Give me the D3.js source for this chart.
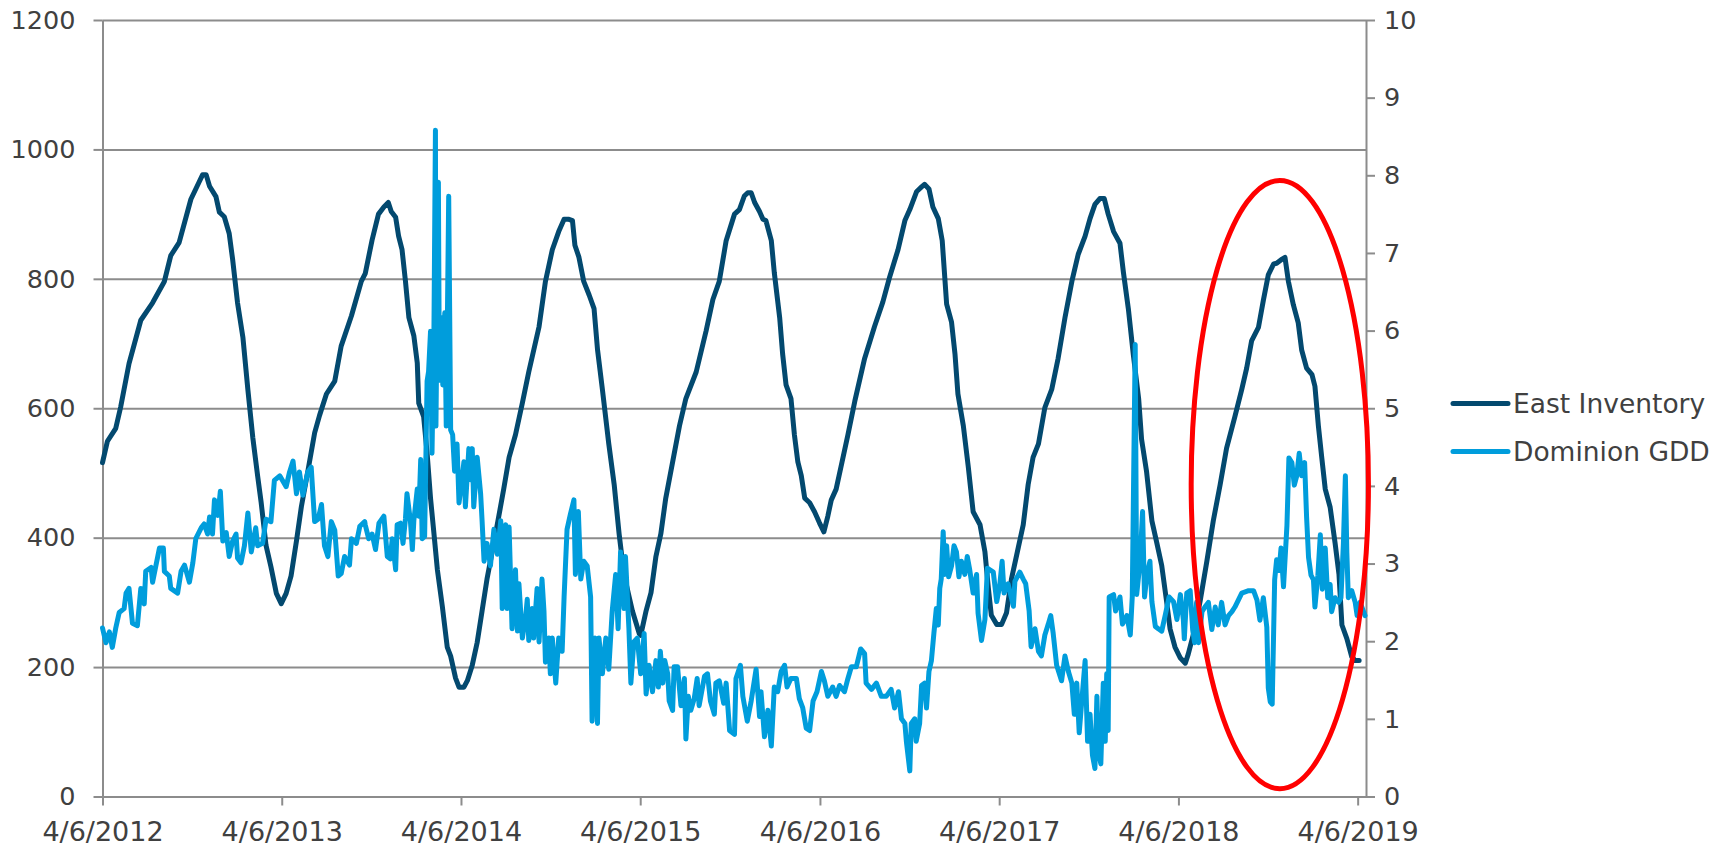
<!DOCTYPE html>
<html>
<head>
<meta charset="utf-8">
<script src="https://cdn.jsdelivr.net/npm/d3@7"></script>
<style>
  body { margin: 0; background: #fff; }
  svg text { font-family: "DejaVu Sans", Verdana, sans-serif; fill: #404040; }
</style>
</head>
<body>
<div id="chart"></div>
<script>
// East storage (Bcf, left axis) and Dominion gas daily price ($, right axis)

const width = 1724;
const height = 846;
const plot = { left: 102.5, right: 1366, top: 20, bottom: 796.5 };

const leftTicks = [0, 200, 400, 600, 800, 1000, 1200];
const rightTicks = [0, 1, 2, 3, 4, 5, 6, 7, 8, 9, 10];
const tickDates = ["2012-04-06", "2013-04-06", "2014-04-06", "2015-04-06",
  "2016-04-06", "2017-04-06", "2018-04-06", "2019-04-06"];
const dateRange = ["2012-04-06", "2019-04-23"];

const seriesNames = ["East Inventory", "Dominion GDD"];
const seriesColors = ["#03496f", "#009ddc"];

const inventory = [
  ["2012-04-06",516],["2012-04-16",549],["2012-05-03",569],["2012-05-13",602],["2012-05-30",669],
  ["2012-06-23",736],["2012-07-17",763],["2012-08-10",796],["2012-08-23",836],["2012-09-09",856],
  ["2012-10-03",923],["2012-10-20",950],["2012-10-27",961],["2012-11-03",961],["2012-11-10",943],
  ["2012-11-23",927],["2012-11-30",903],["2012-12-10",896],["2012-12-20",870],["2012-12-27",830],
  ["2013-01-06",763],["2013-01-17",709],["2013-01-27",629],["2013-02-06",555],["2013-02-16",495],
  ["2013-02-23",455],["2013-03-05",388],["2013-03-15",355],["2013-03-26",314],["2013-04-05",298],
  ["2013-04-15",314],["2013-04-25",341],["2013-05-06",395],["2013-05-16",448],["2013-05-29",502],
  ["2013-06-12",562],["2013-06-22",589],["2013-07-06",622],["2013-07-23",642],["2013-08-05",696],
  ["2013-08-26",743],["2013-09-15",796],["2013-09-23",808],["2013-10-07",860],["2013-10-20",900],
  ["2013-10-31",911],["2013-11-09",918],["2013-11-15",904],["2013-11-24",895],["2013-11-30",866],
  ["2013-12-07",845],["2013-12-14",796],["2013-12-21",740],["2013-12-31",712],["2014-01-07",670],
  ["2014-01-10",608],["2014-01-20",587],["2014-01-27",531],["2014-02-03",461],["2014-02-10",406],
  ["2014-02-17",350],["2014-02-27",294],["2014-03-09",231],["2014-03-16",217],["2014-03-26",183],
  ["2014-04-02",169],["2014-04-12",169],["2014-04-19",179],["2014-04-29",203],["2014-05-09",238],
  ["2014-05-19",287],["2014-05-29",336],["2014-06-12",392],["2014-06-22",433],["2014-07-02",475],
  ["2014-07-13",524],["2014-07-26",559],["2014-08-09",608],["2014-08-22",656],["2014-09-12",726],
  ["2014-09-25",796],["2014-10-09",845],["2014-10-22",873],["2014-11-02",892],["2014-11-12",892],
  ["2014-11-19",890],["2014-11-24",852],["2014-12-02",834],["2014-12-12",796],["2014-12-23",775],
  ["2015-01-02",754],["2015-01-09",691],["2015-01-19",629],["2015-02-01",545],["2015-02-12",482],
  ["2015-02-22",406],["2015-03-04",343],["2015-03-21",287],["2015-04-04",252],["2015-04-07",249],
  ["2015-04-18",287],["2015-04-28",315],["2015-05-08",371],["2015-05-18",406],["2015-05-28",461],
  ["2015-06-11",517],["2015-06-25",573],["2015-07-08",615],["2015-07-29",656],["2015-08-18",719],
  ["2015-09-01",768],["2015-09-14",796],["2015-09-28",859],["2015-10-15",900],["2015-10-25",907],
  ["2015-11-04",928],["2015-11-11",933],["2015-11-18",933],["2015-11-25",918],["2015-12-05",904],
  ["2015-12-12",892],["2015-12-18",890],["2015-12-29",859],["2016-01-04",810],["2016-01-15",740],
  ["2016-01-21",684],["2016-01-28",636],["2016-02-07",615],["2016-02-14",559],["2016-02-21",517],
  ["2016-02-28",496],["2016-03-06",461],["2016-03-16",454],["2016-03-26",440],["2016-04-05",423],
  ["2016-04-14",409],["2016-04-22",433],["2016-04-29",458],["2016-05-09",475],["2016-05-19",510],
  ["2016-06-02",559],["2016-06-16",611],["2016-07-06",677],["2016-07-26",726],["2016-08-12",764],
  ["2016-08-26",803],["2016-09-12",845],["2016-09-26",890],["2016-10-06",907],["2016-10-20",935],
  ["2016-10-30",942],["2016-11-05",946],["2016-11-14",939],["2016-11-22",911],["2016-12-03",893],
  ["2016-12-11",859],["2016-12-20",761],["2016-12-30",733],["2017-01-06",684],["2017-01-12",622],
  ["2017-01-23",573],["2017-02-02",510],["2017-02-12",440],["2017-02-26",420],["2017-03-08",378],
  ["2017-03-15",322],["2017-03-21",280],["2017-04-01",266],["2017-04-11",266],["2017-04-21",284],
  ["2017-05-01",336],["2017-05-15",385],["2017-05-25",420],["2017-06-04",482],["2017-06-14",524],
  ["2017-06-25",545],["2017-07-08",601],["2017-07-22",629],["2017-08-04",677],["2017-08-18",740],
  ["2017-09-01",796],["2017-09-14",838],["2017-09-28",866],["2017-10-08",893],["2017-10-18",915],
  ["2017-10-28",924],["2017-11-06",924],["2017-11-14",900],["2017-11-25",873],["2017-12-08",855],
  ["2017-12-15",810],["2017-12-25",754],["2018-01-04",684],["2018-01-15",615],["2018-01-21",552],
  ["2018-01-31",503],["2018-02-11",426],["2018-02-21",392],["2018-03-03",357],["2018-03-13",301],
  ["2018-03-20",259],["2018-03-30",231],["2018-04-10",214],["2018-04-20",206],["2018-04-26",220],
  ["2018-05-07",252],["2018-05-20",301],["2018-06-03",364],["2018-06-16",426],["2018-06-30",482],
  ["2018-07-13",538],["2018-07-30",587],["2018-08-13",629],["2018-08-23",662],["2018-09-02",704],
  ["2018-09-16",725],["2018-09-26",767],["2018-10-06",806],["2018-10-17",823],["2018-10-23",824],
  ["2018-11-02",830],["2018-11-09",833],["2018-11-16",796],["2018-11-26",760],["2018-12-06",732],
  ["2018-12-13",690],["2018-12-23",662],["2019-01-03",652],["2019-01-09",634],["2019-01-16",573],
  ["2019-01-23",523],["2019-01-30",475],["2019-02-09",447],["2019-02-19",392],["2019-02-27",343],
  ["2019-03-05",265],["2019-03-15",244],["2019-03-25",216],["2019-04-01",210],["2019-04-09",210]
];

const gdd = [
  ["2012-04-06",2.17],["2012-04-13",1.98],["2012-04-20",2.12],["2012-04-26",1.92],["2012-05-03",2.17],
  ["2012-05-10",2.37],["2012-05-20",2.42],["2012-05-24",2.62],["2012-05-30",2.68],["2012-06-06",2.23],
  ["2012-06-16",2.2],["2012-06-23",2.68],["2012-06-30",2.48],["2012-07-03",2.9],["2012-07-14",2.95],
  ["2012-07-17",2.76],["2012-07-24",2.98],["2012-07-31",3.2],["2012-08-08",3.2],["2012-08-10",2.9],
  ["2012-08-20",2.84],["2012-08-23",2.68],["2012-09-06",2.62],["2012-09-13",2.9],["2012-09-20",2.98],
  ["2012-09-30",2.76],["2012-10-07",3.01],["2012-10-13",3.32],["2012-10-24",3.46],["2012-10-30",3.51],
  ["2012-11-06",3.38],["2012-11-10",3.6],["2012-11-16",3.38],["2012-11-20",3.82],["2012-11-27",3.62],
  ["2012-12-02",3.93],["2012-12-07",3.29],["2012-12-14",3.4],["2012-12-20",3.09],["2012-12-27",3.29],
  ["2013-01-03",3.38],["2013-01-06",3.07],["2013-01-13",3.01],["2013-01-20",3.23],["2013-01-27",3.65],
  ["2013-02-03",3.15],["2013-02-12",3.46],["2013-02-16",3.23],["2013-02-26",3.26],["2013-03-05",3.57],
  ["2013-03-15",3.54],["2013-03-22",4.07],["2013-04-02",4.13],["2013-04-15",3.99],["2013-04-22",4.18],
  ["2013-04-29",4.32],["2013-05-06",3.9],["2013-05-12",4.18],["2013-05-19",3.88],["2013-05-29",4.18],
  ["2013-06-05",4.24],["2013-06-12",3.54],["2013-06-19",3.57],["2013-06-26",3.76],["2013-07-02",3.23],
  ["2013-07-09",3.09],["2013-07-16",3.54],["2013-07-23",3.43],["2013-07-30",2.84],["2013-08-05",2.87],
  ["2013-08-12",3.09],["2013-08-22",2.98],["2013-08-26",3.32],["2013-09-05",3.26],["2013-09-12",3.48],
  ["2013-09-22",3.54],["2013-09-23",3.5],["2013-09-30",3.32],["2013-10-07",3.38],["2013-10-14",3.18],
  ["2013-10-21",3.52],["2013-10-31",3.61],["2013-11-07",3.09],["2013-11-13",3.06],["2013-11-17",3.32],
  ["2013-11-24",2.92],["2013-11-27",3.5],["2013-12-04",3.52],["2013-12-09",3.26],["2013-12-14",3.58],
  ["2013-12-17",3.9],["2013-12-24",3.55],["2013-12-28",3.18],["2013-12-31",3.55],["2014-01-07",3.96],
  ["2014-01-10",3.61],["2014-01-14",4.34],["2014-01-17",3.32],["2014-01-22",3.35],["2014-01-27",5.35],
  ["2014-01-30",5.47],["2014-02-03",5.99],["2014-02-06",4.42],["2014-02-10",6.05],["2014-02-13",8.58],
  ["2014-02-14",4.77],["2014-02-19",7.91],["2014-02-21",5.36],["2014-02-25",6.17],["2014-02-28",5.3],
  ["2014-03-04",6.23],["2014-03-07",4.77],["2014-03-12",7.73],["2014-03-16",4.72],["2014-03-20",4.66],
  ["2014-03-24",4.19],["2014-03-29",4.54],["2014-04-02",3.78],["2014-04-08",4.08],["2014-04-12",4.31],
  ["2014-04-15",3.73],["2014-04-22",4.48],["2014-04-25",4.08],["2014-04-29",4.48],["2014-05-02",3.73],
  ["2014-05-09",4.37],["2014-05-16",3.9],["2014-05-19",3.55],["2014-05-23",3.03],["2014-05-29",3.26],
  ["2014-06-05",2.97],["2014-06-12",3.44],["2014-06-19",3.12],["2014-06-26",3.55],["2014-06-29",2.42],
  ["2014-07-06",3.5],["2014-07-09",2.42],["2014-07-13",3.47],["2014-07-19",2.16],["2014-07-26",2.92],
  ["2014-07-30",2.13],["2014-08-02",2.74],["2014-08-09",2.04],["2014-08-16",2.33],["2014-08-19",2.54],
  ["2014-08-22",2.01],["2014-08-29",2.42],["2014-09-01",2.04],["2014-09-08",2.68],["2014-09-12",1.99],
  ["2014-09-18",2.8],["2014-09-22",2.39],["2014-09-25",1.73],["2014-10-02",2.04],["2014-10-05",1.58],
  ["2014-10-09",2.04],["2014-10-16",1.46],["2014-10-22",2.04],["2014-10-29",1.87],["2014-11-02",2.57],
  ["2014-11-08",3.44],["2014-11-15",3.64],["2014-11-22",3.82],["2014-11-25",2.86],["2014-12-01",3.67],
  ["2014-12-06",2.8],["2014-12-12",3.03],["2014-12-19",2.97],["2014-12-26",2.57],["2014-12-29",0.97],
  ["2015-01-04",2.04],["2015-01-09",0.94],["2015-01-12",2.04],["2015-01-19",1.58],["2015-01-26",2.04],
  ["2015-02-01",1.64],["2015-02-08",2.39],["2015-02-15",2.86],["2015-02-20",2.16],["2015-02-25",3.15],
  ["2015-03-04",2.42],["2015-03-07",3.09],["2015-03-14",2.16],["2015-03-18",1.46],["2015-03-24",1.99],
  ["2015-03-31",2.04],["2015-04-07",1.58],["2015-04-14",2.1],["2015-04-18",1.32],["2015-04-24",1.69],
  ["2015-05-01",1.35],["2015-05-08",1.75],["2015-05-13",1.41],["2015-05-17",1.87],["2015-05-22",1.46],
  ["2015-05-26",1.75],["2015-06-01",1.58],["2015-06-04",1.23],["2015-06-11",1.11],["2015-06-14",1.67],
  ["2015-06-21",1.67],["2015-06-28",1.17],["2015-07-05",1.52],["2015-07-08",0.74],["2015-07-13",1.29],
  ["2015-07-18",1.11],["2015-07-25",1.26],["2015-07-31",1.52],["2015-08-04",1.17],["2015-08-15",1.55],
  ["2015-08-21",1.58],["2015-08-27",1.23],["2015-09-04",1.06],["2015-09-07",1.46],["2015-09-14",1.49],
  ["2015-09-23",1.2],["2015-09-28",1.46],["2015-10-05",0.85],["2015-10-15",0.8],["2015-10-18",1.52],
  ["2015-10-27",1.69],["2015-11-01",1.29],["2015-11-10",0.97],["2015-11-18",1.23],["2015-11-28",1.64],
  ["2015-12-05",1.03],["2015-12-08",1.35],["2015-12-15",0.77],["2015-12-22",1.11],["2015-12-29",0.65],
  ["2016-01-04",1.41],["2016-01-11",1.35],["2016-01-18",1.61],["2016-01-25",1.69],["2016-01-30",1.41],
  ["2016-02-07",1.52],["2016-02-18",1.52],["2016-02-24",1.26],["2016-03-02",1.14],["2016-03-09",0.88],
  ["2016-03-16",0.85],["2016-03-23",1.23],["2016-03-31",1.35],["2016-04-09",1.61],["2016-04-15",1.49],
  ["2016-04-22",1.29],["2016-05-02",1.41],["2016-05-09",1.29],["2016-05-16",1.43],["2016-05-26",1.35],
  ["2016-06-02",1.52],["2016-06-09",1.67],["2016-06-19",1.67],["2016-06-28",1.9],["2016-07-06",1.84],
  ["2016-07-09",1.46],["2016-07-20",1.38],["2016-07-30",1.46],["2016-08-09",1.29],["2016-08-19",1.29],
  ["2016-08-29",1.38],["2016-09-05",1.14],["2016-09-13",1.35],["2016-09-19",1.0],["2016-09-26",0.94],
  ["2016-09-29",0.71],["2016-10-06",0.33],["2016-10-09",0.94],["2016-10-16",1.0],["2016-10-19",0.71],
  ["2016-10-26",0.94],["2016-10-30",1.43],["2016-11-05",1.46],["2016-11-09",1.14],["2016-11-14",1.61],
  ["2016-11-19",1.75],["2016-11-24",2.1],["2016-11-29",2.42],["2016-12-03",2.21],["2016-12-06",2.68],
  ["2016-12-09",2.8],["2016-12-13",3.41],["2016-12-16",2.86],["2016-12-20",3.23],["2016-12-24",2.83],
  ["2016-12-30",2.97],["2017-01-04",3.23],["2017-01-09",3.15],["2017-01-14",2.83],["2017-01-19",3.03],
  ["2017-01-26",2.86],["2017-01-31",3.09],["2017-02-05",2.92],["2017-02-12",2.62],["2017-02-19",2.86],
  ["2017-02-22",2.36],["2017-03-01",2.01],["2017-03-08",2.28],["2017-03-13",2.94],["2017-03-18",2.92],
  ["2017-03-25",2.89],["2017-04-01",2.51],["2017-04-07",2.71],["2017-04-12",3.03],["2017-04-16",2.62],
  ["2017-04-24",2.74],["2017-05-05",2.45],["2017-05-08",2.77],["2017-05-18",2.89],["2017-05-25",2.8],
  ["2017-05-30",2.74],["2017-06-06",2.39],["2017-06-10",1.93],["2017-06-18",2.16],["2017-06-25",1.87],
  ["2017-07-01",1.81],["2017-07-08",2.08],["2017-07-15",2.22],["2017-07-20",2.33],["2017-07-25",2.1],
  ["2017-08-01",1.69],["2017-08-11",1.49],["2017-08-18",1.81],["2017-08-25",1.61],["2017-09-01",1.46],
  ["2017-09-06",1.06],["2017-09-11",1.46],["2017-09-16",0.82],["2017-09-22",1.29],["2017-09-28",1.75],
  ["2017-10-03",0.71],["2017-10-08",1.06],["2017-10-13",0.53],["2017-10-18",0.36],["2017-10-22",1.29],
  ["2017-10-25",0.59],["2017-10-30",0.42],["2017-11-04",1.46],["2017-11-08",0.71],["2017-11-11",1.58],
  ["2017-11-14",0.85],["2017-11-16",2.57],["2017-11-25",2.6],["2017-11-29",2.39],["2017-12-08",2.57],
  ["2017-12-13",2.22],["2017-12-22",2.33],["2017-12-29",2.08],["2018-01-02",2.57],["2018-01-08",5.82],
  ["2018-01-11",2.6],["2018-01-18",3.03],["2018-01-23",3.67],["2018-01-27",2.57],["2018-02-01",2.86],
  ["2018-02-07",3.03],["2018-02-11",2.51],["2018-02-18",2.19],["2018-02-24",2.16],["2018-03-03",2.13],
  ["2018-03-10",2.33],["2018-03-18",2.57],["2018-03-27",2.51],["2018-04-03",2.28],["2018-04-10",2.6],
  ["2018-04-16",2.28],["2018-04-18",2.03],["2018-04-23",2.62],["2018-04-30",2.65],["2018-05-05",2.15],
  ["2018-05-09",1.98],["2018-05-13",2.5],["2018-05-17",1.98],["2018-05-24",2.38],["2018-05-30",2.44],
  ["2018-06-06",2.5],["2018-06-13",2.15],["2018-06-20",2.44],["2018-06-26",2.21],["2018-07-03",2.5],
  ["2018-07-10",2.21],["2018-07-17",2.33],["2018-07-24",2.38],["2018-07-30",2.44],["2018-08-13",2.62],
  ["2018-08-27",2.65],["2018-09-06",2.65],["2018-09-13",2.53],["2018-09-19",2.27],["2018-09-26",2.56],
  ["2018-10-03",2.18],["2018-10-06",1.4],["2018-10-10",1.22],["2018-10-14",1.19],["2018-10-19",2.79],
  ["2018-10-23",3.05],["2018-10-28",2.91],["2018-11-01",3.2],["2018-11-06",2.7],["2018-11-13",3.49],
  ["2018-11-17",4.36],["2018-11-23",4.3],["2018-11-28",4.01],["2018-12-03",4.13],["2018-12-08",4.42],
  ["2018-12-13",4.13],["2018-12-19",4.3],["2018-12-23",3.6],["2018-12-27",3.08],["2019-01-01",2.85],
  ["2019-01-06",2.79],["2019-01-09",2.44],["2019-01-15",2.85],["2019-01-20",3.37],["2019-01-24",2.67],
  ["2019-01-30",3.2],["2019-02-04",2.56],["2019-02-09",2.73],["2019-02-12",2.38],["2019-02-19",2.56],
  ["2019-02-26",2.5],["2019-03-03",2.56],["2019-03-08",3.26],["2019-03-12",4.13],["2019-03-15",3.14],
  ["2019-03-18",2.56],["2019-03-25",2.65],["2019-04-01",2.5],["2019-04-05",2.33],["2019-04-11",2.5],
  ["2019-04-21",2.33]
];

// red oval marking the 2018/19 winter (date span, left-axis value span)
const ovalDates = ["2018-05-02", "2019-04-28"];
const ovalValues = [12, 952];

const parse = d3.timeParse("%Y-%m-%d");

const svg = d3.select("#chart")
  .append("svg")
  .attr("width", width)
  .attr("height", height);

// Scales
const x = d3.scaleTime()
  .domain(dateRange.map(parse))
  .range([plot.left, plot.right]);

const yLeft = d3.scaleLinear()
  .domain([0, 1200])
  .range([plot.bottom, plot.top]);

const yRight = d3.scaleLinear()
  .domain([0, 10])
  .range([plot.bottom, plot.top]);

// Gridlines
svg.append("g")
  .attr("class", "grid")
  .attr("transform", `translate(${plot.left},0)`)
  .call(d3.axisLeft(yLeft).tickValues(leftTicks).tickSize(-(plot.right - plot.left)).tickFormat(""))
  .call(g => g.select(".domain").remove())
  .call(g => g.selectAll("line").attr("stroke", "#8c8c8c").attr("stroke-width", 2));

// Axes
const axisGray = g => {
  g.select(".domain").attr("stroke", "#8c8c8c").attr("stroke-width", 2);
  g.selectAll(".tick line").attr("stroke", "#8c8c8c").attr("stroke-width", 2);
  g.selectAll("text").attr("fill", "#404040");
};

svg.append("g")
  .attr("transform", `translate(${plot.left},0)`)
  .call(d3.axisLeft(yLeft).tickValues(leftTicks).tickFormat(d3.format("d"))
    .tickSize(9).tickSizeOuter(0).tickPadding(18))
  .call(axisGray)
  .call(g => g.selectAll("text").style("font-size", "25.5px"));

svg.append("g")
  .attr("transform", `translate(${plot.right},0)`)
  .call(d3.axisRight(yRight).tickValues(rightTicks).tickFormat(d3.format("d"))
    .tickSize(9).tickSizeOuter(0).tickPadding(9))
  .call(axisGray)
  .call(g => g.selectAll("text").style("font-size", "25.5px"));

svg.append("g")
  .attr("transform", `translate(0,${plot.bottom})`)
  .call(d3.axisBottom(x).tickValues(tickDates.map(parse))
    .tickFormat(d3.timeFormat("%-m/%-d/%Y")).tickSize(9).tickSizeOuter(0))
  .call(axisGray)
  .call(g => g.selectAll("text").style("font-size", "27px").attr("y", 44).attr("dy", null));

// Lines
const invLine = d3.line()
  .x(d => x(parse(d[0])))
  .y(d => yLeft(d[1]));

const gddLine = d3.line()
  .x(d => x(parse(d[0])))
  .y(d => yRight(d[1]));

svg.append("path")
  .datum(inventory)
  .attr("fill", "none")
  .attr("stroke", seriesColors[0])
  .attr("stroke-width", 5)
  .attr("stroke-linejoin", "round")
  .attr("stroke-linecap", "round")
  .attr("d", invLine);

svg.append("path")
  .datum(gdd)
  .attr("fill", "none")
  .attr("stroke", seriesColors[1])
  .attr("stroke-width", 5)
  .attr("stroke-linejoin", "round")
  .attr("stroke-linecap", "round")
  .attr("d", gddLine);

// Oval annotation
const ox = ovalDates.map(d => x(parse(d)));
const oy = ovalValues.map(v => yLeft(v));
svg.append("ellipse")
  .attr("cx", (ox[0] + ox[1]) / 2)
  .attr("cy", (oy[0] + oy[1]) / 2)
  .attr("rx", (ox[1] - ox[0]) / 2)
  .attr("ry", Math.abs(oy[0] - oy[1]) / 2)
  .attr("fill", "none")
  .attr("stroke", "#ff0000")
  .attr("stroke-width", 5);

// Legend
const legend = svg.append("g")
  .attr("transform", "translate(1453,403.5)");

const item = legend.selectAll("g")
  .data(seriesNames)
  .join("g")
  .attr("transform", (d, i) => `translate(0,${i * 48})`);

item.append("line")
  .attr("x1", 0).attr("x2", 55)
  .attr("stroke", (d, i) => seriesColors[i])
  .attr("stroke-width", 5)
  .attr("stroke-linecap", "round");

item.append("text")
  .attr("x", 60)
  .attr("dy", "0.36em")
  .style("font-size", "26.5px")
  .text(d => d);
</script>
</body>
</html>
